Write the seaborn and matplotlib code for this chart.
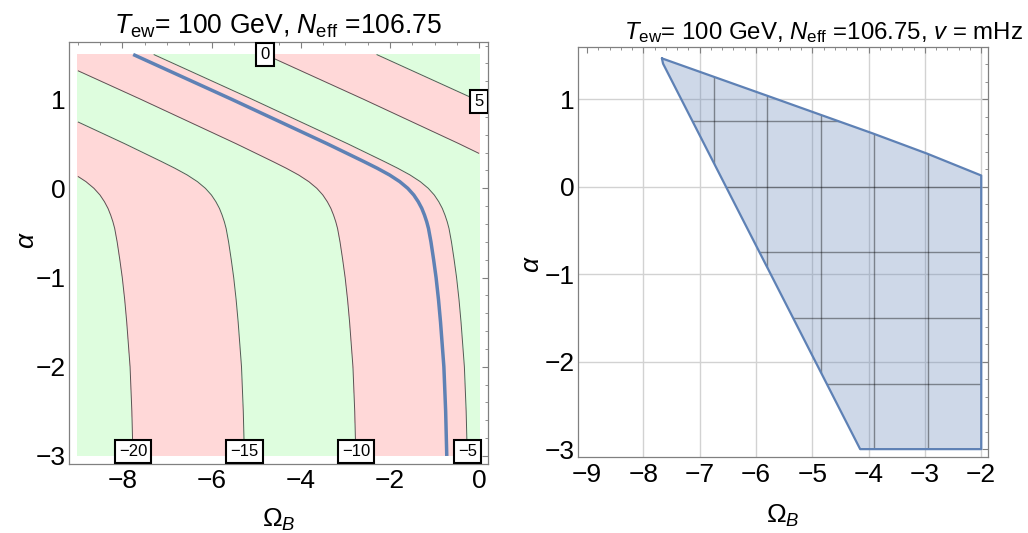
import numpy as np
import matplotlib
matplotlib.use("Agg")
import matplotlib.pyplot as plt
from matplotlib.ticker import MultipleLocator
import seaborn as sns

# Left panel: alpha-dependent part of the contoured quantity
alpha_nodes = [-3.0, -2.5, -2.0, -1.5, -1.25, -1.0, -0.8, -0.6, -0.45, -0.375, -0.3, -0.225,
               -0.15, -0.075, 0.0, 0.075, 0.15, 0.225, 0.3, 0.5, 0.75, 1.0, 1.25, 1.5]
alpha_term = [-4.47, -4.42, -4.34, -4.19, -4.10, -3.99, -3.88, -3.76, -3.65, -3.57, -3.47, -3.35,
              -3.19, -2.99, -2.72, -2.36, -1.90, -1.35, -0.75, 0.90, 3.05, 5.20, 7.40, 9.60]
omega_slope = 2.0  # change of the contoured quantity per unit of Omega_B
omega_range = [-9.0, 0.0]
contour_levels = [-20, -15, -10, -5, 0, 5]
label_side = ["bottom", "bottom", "bottom", "bottom", "top", "right"]
blue_level = -5.92

# Right panel: allowed region and its mesh lines
region_omega = [-7.67, -5.79, -3.92, -2.96, -2.0, -2.0, -4.15, -7.65, -7.67]
region_alpha = [1.47, 1.04, 0.61, 0.38, 0.13, -3.0, -3.0, 1.41, 1.47]
mesh_omega = [-6.75, -5.8, -4.85, -3.9, -2.95]
mesh_alpha = [0.75, 0.0, -0.75, -1.5, -2.25]

left_title = r"$T_{\mathrm{ew}}$= 100 GeV, $N_{\mathrm{eff}}$ =106.75"
right_title = r"$T_{\mathrm{ew}}$= 100 GeV, $N_{\mathrm{eff}}$ =106.75, $v$ = mHz"

BLUE = "#5E81B5"
PINK = "#FFD8D8"
GREEN = "#DEFDDE"
FRAME = "#808080"

sns.set_theme(style="white")
plt.rcParams["font.family"] = ["Liberation Sans", "DejaVu Sans"]
plt.rcParams["mathtext.fontset"] = "custom"
plt.rcParams["mathtext.rm"] = "Liberation Sans"
plt.rcParams["mathtext.it"] = "Liberation Sans:italic"
plt.rcParams["mathtext.bf"] = "Liberation Sans:bold"
plt.rcParams["text.color"] = "black"
plt.rcParams["axes.labelcolor"] = "black"

fig = plt.figure(figsize=(10.28, 5.33), dpi=100)
ax1 = fig.add_axes([69 / 1028, 1 - 464 / 533, 419 / 1028, 422 / 533])
ax2 = fig.add_axes([578 / 1028, 1 - 457 / 533, 410 / 1028, 410 / 533])

# ---- left: contour plot
omega_grid = np.linspace(omega_range[0], omega_range[1], 181)
field = omega_slope * omega_grid[None, :] + np.array(alpha_term)[:, None]
fill_levels = [-30] + contour_levels + [30]
fill_colors = [GREEN if i % 2 == 0 else PINK for i in range(len(fill_levels) - 1)]
ax1.contourf(omega_grid, alpha_nodes, field, levels=fill_levels, colors=fill_colors)
ax1.contour(omega_grid, alpha_nodes, field, levels=contour_levels, linestyles="solid",
            colors="#3c3c3c", linewidths=0.7, alpha=0.85)
ax1.contour(omega_grid, alpha_nodes, field, levels=[blue_level], linestyles="solid",
            colors=BLUE, linewidths=2.5)

for level, side in zip(contour_levels, label_side):
    if side == "bottom":
        x = (level - alpha_term[0]) / omega_slope
        y = -2.95
    elif side == "top":
        x = (level - alpha_term[-1]) / omega_slope
        y = 1.5
    else:
        x = omega_range[1]
        y = np.interp(level - omega_slope * x, alpha_term, alpha_nodes)
    ax1.text(x, y, str(level).replace("-", "\u2212"), ha="center", va="center",
             fontsize=12, zorder=5, clip_on=True,
             bbox=dict(boxstyle="square,pad=0.25", fc="white", ec="black", lw=1.5))

ax1.set_xlim(-9.2, 0.2)
ax1.set_ylim(-3.09, 1.64)
ax1.xaxis.set_major_locator(MultipleLocator(2))
ax1.xaxis.set_minor_locator(MultipleLocator(0.5))
ax1.yaxis.set_major_locator(MultipleLocator(1))
ax1.yaxis.set_minor_locator(MultipleLocator(0.2))
ax1.set_title(left_title, fontsize=19.1, pad=6)

# ---- right: region plot
for v in range(-8, -1):
    ax2.axvline(v, color="#d2d2d2", lw=1.0, zorder=0.5)
for h in range(-2, 2):
    ax2.axhline(h, color="#d2d2d2", lw=1.0, zorder=0.5)

patch = ax2.fill(region_omega, region_alpha, color=BLUE, alpha=0.3, lw=0, zorder=1)[0]
for m in mesh_omega:
    ln = ax2.axvline(m, color="black", alpha=0.4, lw=1.0, zorder=1.5)
    ln.set_clip_path(patch)
for m in mesh_alpha:
    ln = ax2.axhline(m, color="black", alpha=0.4, lw=1.0, zorder=1.5)
    ln.set_clip_path(patch)
sns.lineplot(x=region_omega, y=region_alpha, sort=False, estimator=None,
             color=BLUE, lw=1.6, ax=ax2, zorder=2)

ax2.set_xlim(-9.16, -1.88)
ax2.set_ylim(-3.09, 1.6)
ax2.xaxis.set_major_locator(MultipleLocator(1))
ax2.xaxis.set_minor_locator(MultipleLocator(0.2))
ax2.yaxis.set_major_locator(MultipleLocator(1))
ax2.yaxis.set_minor_locator(MultipleLocator(0.2))
ax2.set_title(right_title, fontsize=17.3, pad=6, x=0.6)

for ax, xpad, lpad, ylab_x, ylab_y in [(ax1, 3.5, 10, -0.072, 0.53), (ax2, 4.5, 11, -0.083, 0.47)]:
    for side in ax.spines.values():
        side.set_color(FRAME)
        side.set_linewidth(0.9)
    ax.tick_params(which="both", direction="in", top=True, right=True, color=FRAME,
                   labelsize=19, labelcolor="black")
    ax.tick_params(which="major", length=4.5, width=0.8)
    ax.tick_params(which="minor", length=2.5, width=0.6)
    ax.tick_params(axis="x", which="major", pad=xpad)
    ax.tick_params(axis="y", which="major", pad=2.5)
    ax.set_xlabel(r"$\Omega_B$", fontsize=19, labelpad=lpad)
    ax.set_ylabel(r"$\alpha$", fontsize=19)
    ax.yaxis.set_label_coords(ylab_x, ylab_y)
    ax.grid(False)

fig.savefig("out.png", dpi=100)
